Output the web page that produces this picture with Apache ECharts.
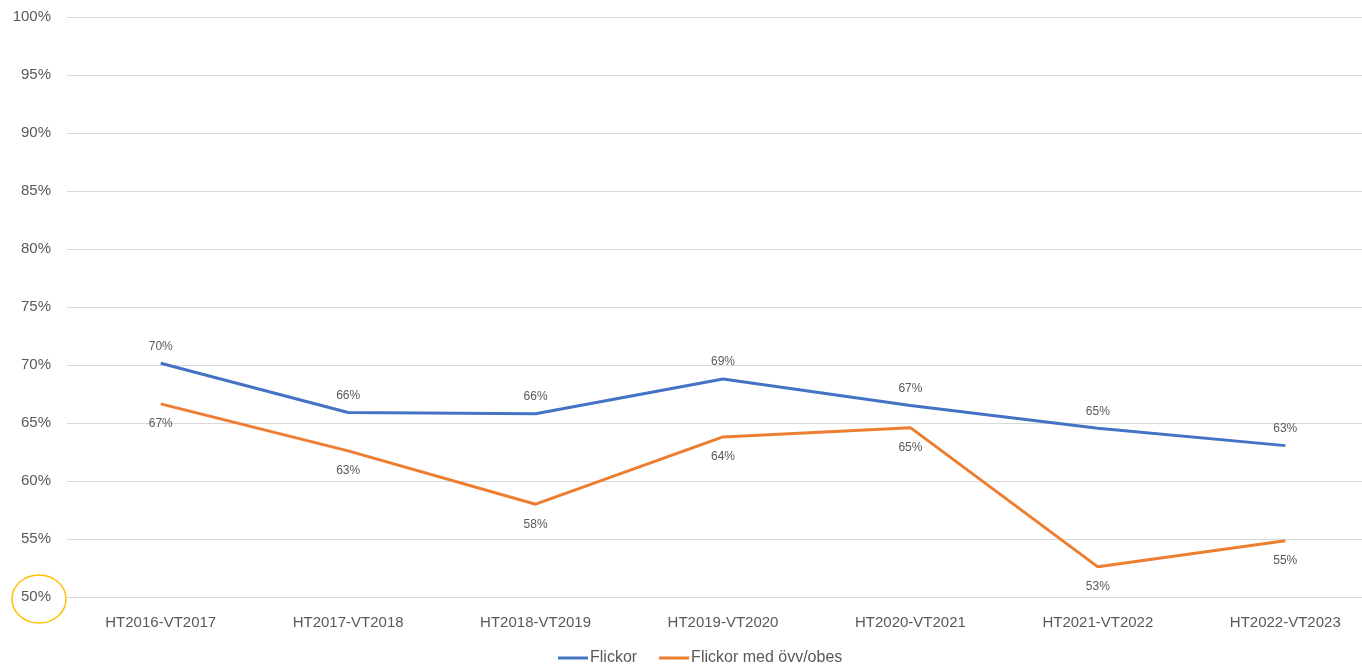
<!DOCTYPE html>
<html>
<head>
<meta charset="utf-8">
<script src="https://cdn.jsdelivr.net/npm/echarts@6/dist/echarts.min.js"></script>
<style>
  html, body { margin: 0; padding: 0; background: #fff; }
  #chart { width: 1362px; height: 667px; }
</style>
</head>
<body>
<div id="chart"></div>
<script>
const categories = ['HT2016-VT2017', 'HT2017-VT2018', 'HT2018-VT2019', 'HT2019-VT2020', 'HT2020-VT2021', 'HT2021-VT2022', 'HT2022-VT2023'];
const flickor = [70.15, 65.9, 65.8, 68.8, 66.5, 64.55, 63.05];
const flickorOvv = [66.65, 62.6, 58.0, 63.8, 64.6, 52.6, 54.85];
const seriesNames = ['Flickor', 'Flickor med övv/obes'];

const font = '"Liberation Sans", "DejaVu Sans", sans-serif';
const chart = echarts.init(document.getElementById('chart'));

const option = {
    backgroundColor: '#ffffff',
    animation: false,
    textStyle: { fontFamily: font },
    grid: { left: 67, top: 17, width: 1312, height: 580, outerBoundsMode: 'none' },
    legend: {
        data: seriesNames,
        left: 553,
        top: 645,
        itemWidth: 30,
        itemHeight: 3,
        itemGap: 22,
        icon: 'rect',
        textStyle: { color: '#595959', fontSize: 16, fontFamily: font, padding: [0, 0, 0, -3] }
    },
    xAxis: {
        type: 'category',
        data: categories,
        boundaryGap: true,
        axisLine: { show: false },
        axisTick: { show: false },
        axisLabel: { color: '#595959', fontSize: 15, margin: 18, fontFamily: font }
    },
    yAxis: {
        type: 'value',
        min: 50,
        max: 100,
        interval: 5,
        axisLine: { show: false },
        axisTick: { show: false },
        splitLine: { lineStyle: { color: '#d9d9d9', width: 1 } },
        axisLabel: {
            color: '#595959', fontSize: 15, margin: 16, fontFamily: font,
            padding: [3, 0, 0, 0],
            formatter: v => v + '%'
        }
    },
    series: [
        {
            name: seriesNames[0],
            type: 'line',
            data: flickor,
            symbol: 'circle',
            symbolSize: 0,
            lineStyle: { color: '#4472C4', width: 3 },
            itemStyle: { color: '#4472C4' },
            label: {
                show: true, position: 'top', distance: 11,
                color: '#595959', fontSize: 12, fontFamily: font,
                formatter: p => Math.round(p.value) + '%'
            }
        },
        {
            name: seriesNames[1],
            type: 'line',
            data: flickorOvv,
            symbol: 'circle',
            symbolSize: 0,
            lineStyle: { color: '#ED7D31', width: 3 },
            itemStyle: { color: '#ED7D31' },
            label: {
                show: true, position: 'bottom', distance: 14,
                color: '#595959', fontSize: 12, fontFamily: font,
                formatter: p => Math.round(p.value) + '%'
            }
        }
    ],
    graphic: [
        {
            type: 'ellipse',
            shape: { cx: 39, cy: 599, rx: 27, ry: 24 },
            style: { fill: 'none', stroke: '#FFC000', lineWidth: 1.5 },
            z: 100
        }
    ]
};

chart.setOption(option);
</script>
</body>
</html>
